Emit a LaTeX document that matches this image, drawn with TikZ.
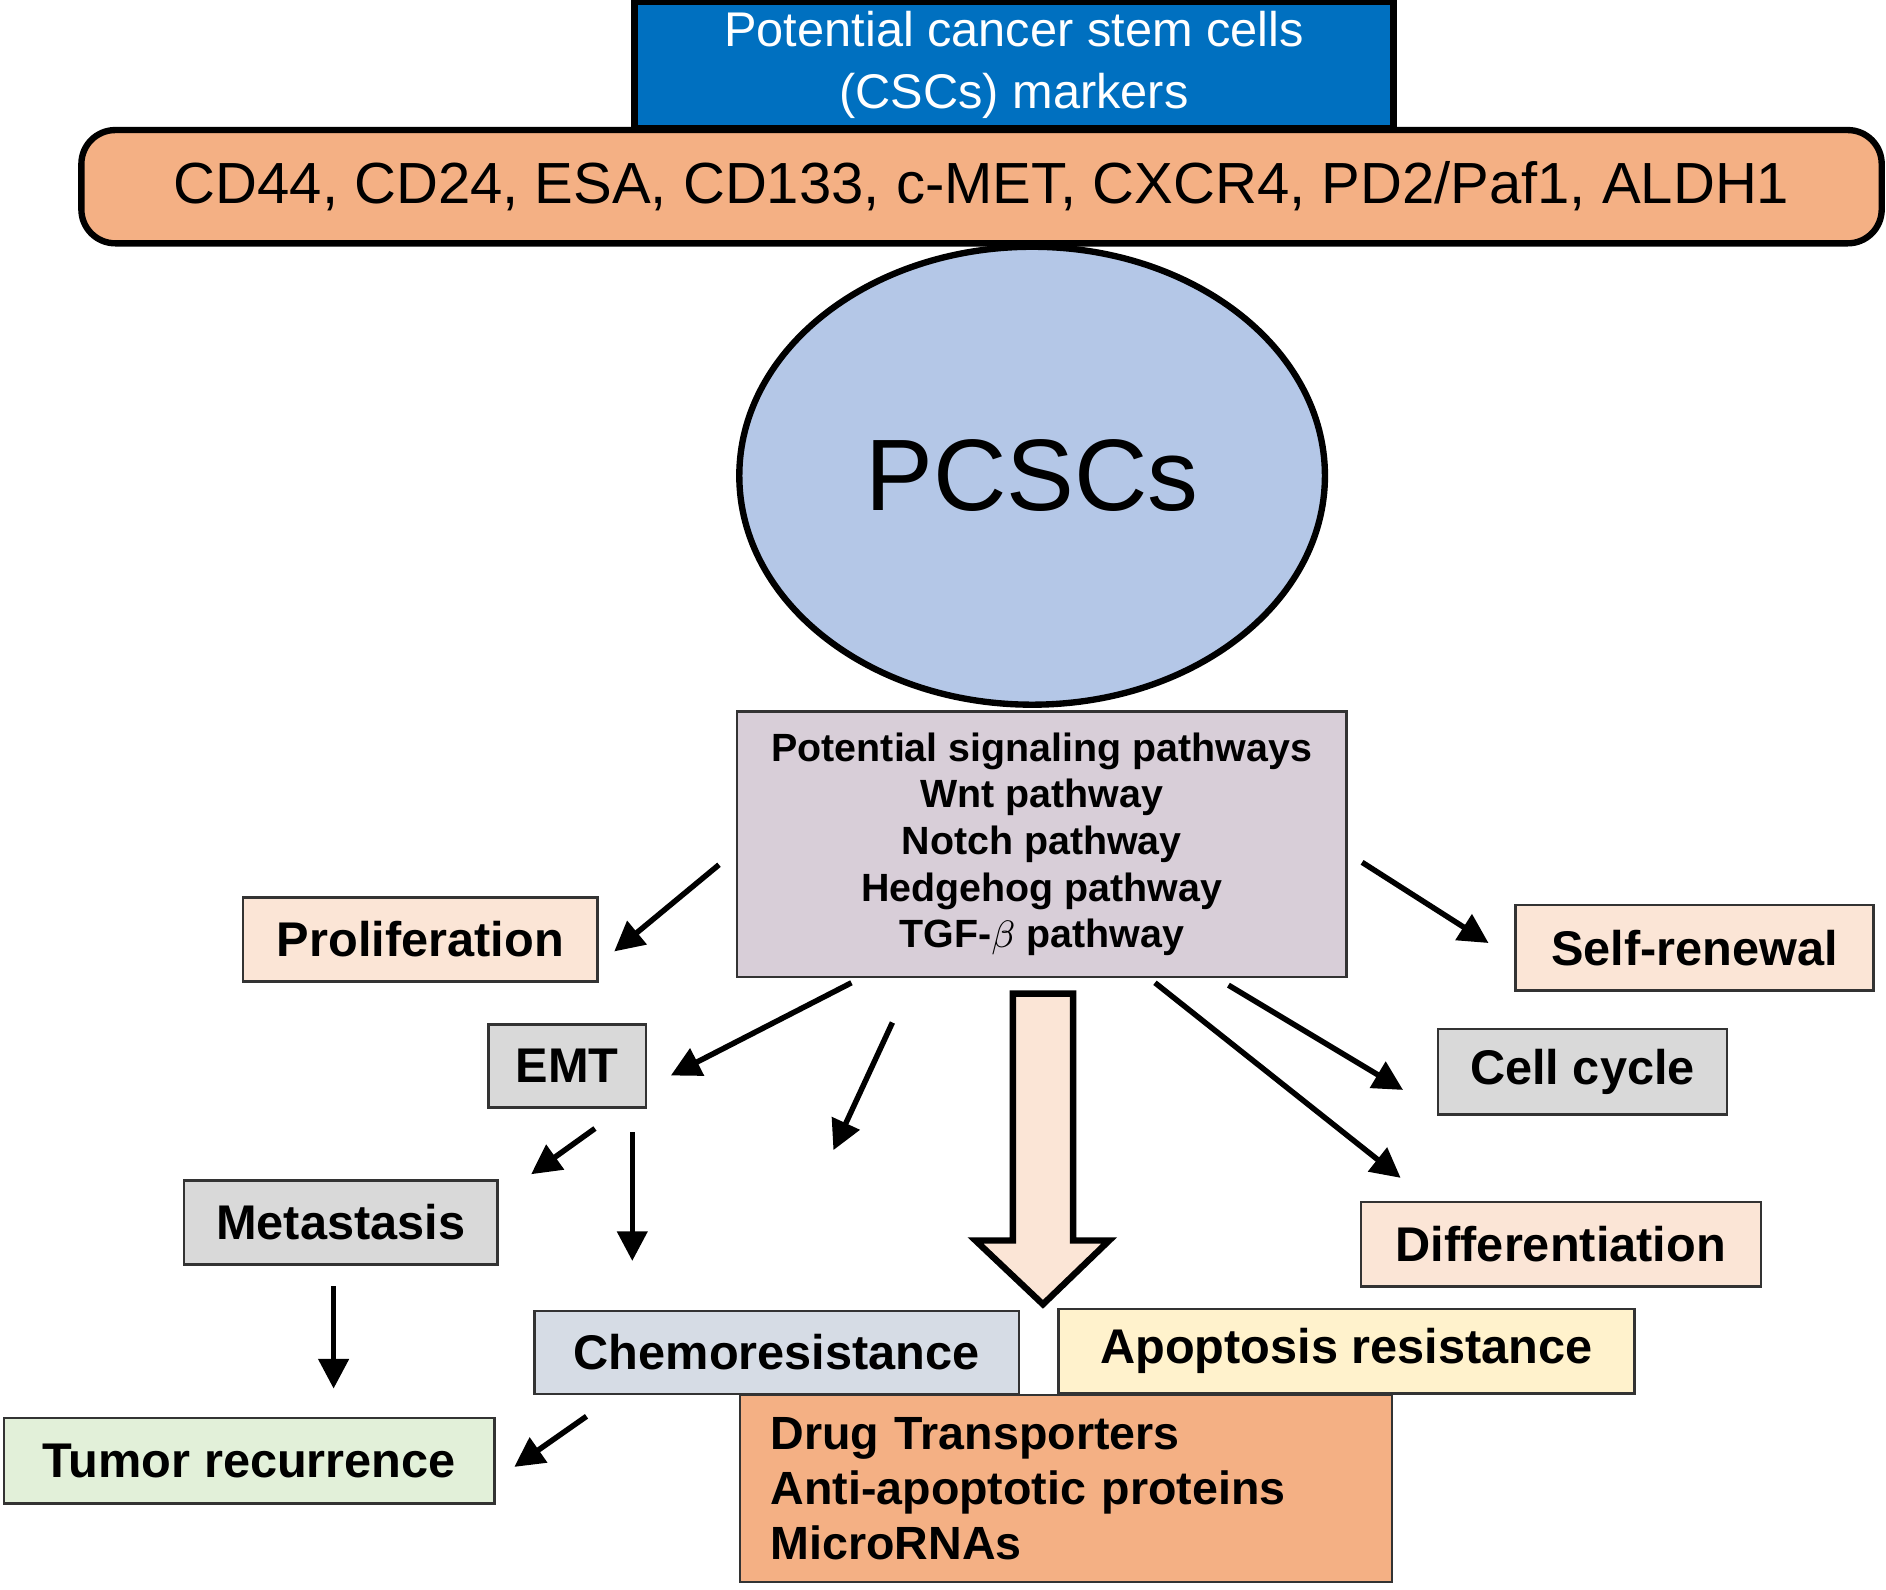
\documentclass[tikz,border=0pt]{standalone}
\usepackage{fontspec}
\setmainfont{Liberation Sans}
\usetikzlibrary{arrows.meta,shapes.geometric}
\definecolor{csblue}{RGB}{0,112,192}
\definecolor{orng}{RGB}{244,176,132}
\definecolor{cellblue}{RGB}{180,199,231}
\definecolor{lavgray}{RGB}{216,206,216}
\definecolor{peach}{RGB}{251,229,214}
\definecolor{lgray}{RGB}{217,217,217}
\definecolor{chemo}{RGB}{214,220,229}
\definecolor{lyellow}{RGB}{255,242,204}
\definecolor{lgreen}{RGB}{226,240,217}

\begin{document}
\begin{tikzpicture}[x=0.01cm,y=-0.01cm]
% Styles
 \tikzset{
  box/.style={rectangle,draw=black!80,line width=0.6pt,inner sep=0pt,
     font=\fontsize{11.5}{13}\selectfont\bfseries},
  arr/.style={-{Triangle[length=7pt,width=7pt]},line width=1.3pt}
 }
 \useasboundingbox (0,0) rectangle (1566,1320);
% Markers
 \node[rectangle,draw,line width=1.5pt,fill=csblue,text=white,minimum width=6.3cm,
   minimum height=1.05cm,inner sep=0pt,align=center,
   font=\fontsize{11.5}{14.5}\selectfont] (title) at (842,54)
   {Potential cancer stem cells\\(CSCs) markers};
 \node[rectangle,rounded corners=8pt,draw,line width=1.5pt,fill=orng,minimum width=14.94cm,
   minimum height=0.94cm,font=\fontsize{13.7}{16}\selectfont] (markers) at (815,155)
   {CD44, CD24, ESA, CD133, c-MET, CXCR4, PD2/Paf1, ALDH1};
% Cells
 \node[ellipse,draw,line width=1.5pt,fill=cellblue,minimum width=4.86cm,minimum height=3.8cm,
   font=\fontsize{24}{28}\selectfont] (pcsc) at (857,395) {PCSCs};
% Pathways
 \node[box,fill=lavgray,minimum width=5.06cm,minimum height=2.2cm,align=center,
   font=\fontsize{9.3}{11}\selectfont\bfseries] (path) at (865,701)
   {Potential signaling pathways\\Wnt pathway\\Notch pathway\\Hedgehog pathway\\TGF-$\beta$ pathway};
% Outcomes
 \node[box,fill=peach,minimum width=2.94cm,minimum height=0.7cm] (prolif) at (349,780) {Proliferation};
 \node[box,fill=peach,minimum width=2.97cm,minimum height=0.71cm] (self) at (1407,787) {Self-renewal};
 \node[box,fill=lgray,minimum width=1.31cm,minimum height=0.69cm] (emt) at (471,885) {EMT};
 \node[box,fill=lgray,minimum width=2.4cm,minimum height=0.71cm] (cycle) at (1314,890) {Cell cycle};
 \node[box,fill=lgray,minimum width=2.6cm,minimum height=0.7cm] (meta) at (283,1015) {Metastasis};
 \node[box,fill=peach,minimum width=3.32cm,minimum height=0.7cm] (diff) at (1296,1033) {Differentiation};
 \node[box,fill=chemo,minimum width=4.02cm,minimum height=0.69cm] (chemo) at (645,1123) {Chemoresistance};
 \node[box,fill=lyellow,minimum width=4.78cm,minimum height=0.7cm] (apop) at (1118,1122) {Apoptosis resistance};
 \node[box,fill=lgreen,minimum width=4.07cm,minimum height=0.71cm] (tumor) at (207,1213) {Tumor recurrence};
 \node[box,fill=orng,minimum width=5.41cm,minimum height=1.55cm,align=left,text width=4.9cm,
   font=\fontsize{11}{13}\selectfont\bfseries] (drug) at (885,1236)
   {Drug Transporters\\Anti-apoptotic proteins\\MicroRNAs};
% Big hollow arrow
 \coordinate (btop) at (866,825);
 \coordinate (btip) at (866,1083);
 \draw[line width=1.5pt,fill=peach] (btop) ++(-25,0) -- ++(0,205) -- ++(-31,0) -- (btip)
   -- ++(55,-53) -- ++(-30,0) -- ++(0,-205) -- cycle;
% Arrows
 \foreach \n/\a/\b/\c/\d in {a/597/718/510/790, b/1131/716/1236/783, c/707/816/557/893,
   d/741/849/692/955, e/1020/818/1165/905, f/959/816/1163/978, g/494/937/441/975,
   h/525/940/525/1047, i/277/1068/277/1153, j/487/1176/427/1218}{
   \coordinate (\n s) at (\a,\b);
   \coordinate (\n e) at (\c,\d);
   \draw[arr] (\n s) -- (\n e);
 }
\end{tikzpicture}
\end{document}
